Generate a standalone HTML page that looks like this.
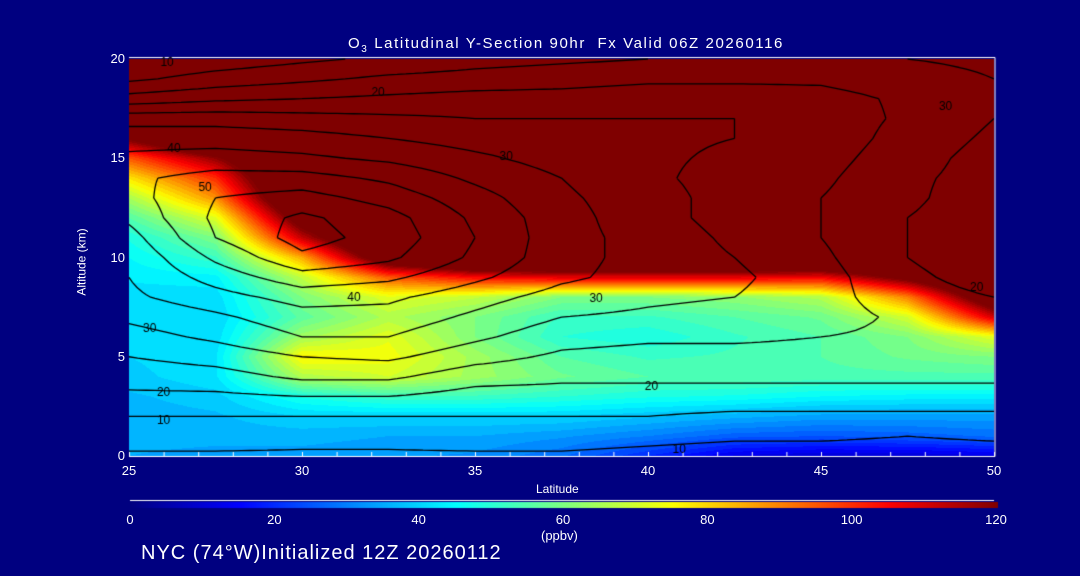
<!DOCTYPE html>
<html><head><meta charset="utf-8">
<style>
html,body{margin:0;padding:0;background:#000080;}
#wrap{position:relative;width:1080px;height:576px;background:#000080;overflow:hidden;font-family:"Liberation Sans",sans-serif;color:#fff;}
canvas{position:absolute;left:0;top:0;}
.t{position:absolute;white-space:nowrap;color:#fff;}
</style></head>
<body>
<div id="wrap">
<canvas id="cv" width="1080" height="576"></canvas>
<div class="t" style="left:0;width:1132px;text-align:center;top:35px;font-size:15px;letter-spacing:1.6px;">O<sub style="font-size:10px">3</sub> Latitudinal Y-Section 90hr&nbsp; Fx Valid 06Z 20260116</div>
<div class="t" style="left:48px;top:255px;font-size:12px;transform:rotate(-90deg);transform-origin:center;">Altitude (km)</div>
<div class="t" style="left:536px;top:482px;font-size:12px;">Latitude</div>
<div class="t" style="left:541px;top:528px;font-size:13px;">(ppbv)</div>
<div class="t" style="left:141px;top:542px;font-size:20px;letter-spacing:1px;">NYC (74°W)Initialized 12Z 20260112</div>
<div id="labels"></div>
</div>
<script>
const lats=[25,27.5,30,32.5,35,37.5,40,42.5,45,47.5,50];
const alts=[0,1,2,3,4,5,6,7,8,9,10,11,12,13,14,15,16,17,18,19,20];
const o3=[
[35,34,34,33,32,28,20,12,10,10,12],
[36,36,36,35,35,33,30,26,25,26,28],
[36,37,40,40,40,40,38,36,34,34,34],
[37,39,48,52,52,50,48,47,45,44,44],
[39,42,66,70,64,58,55,55,54,54,54],
[40,42,76,74,64,55,52,53,55,58,60],
[40,41,64,72,60,50,48,52,55,60,72],
[40,40,56,66,60,52,52,55,58,70,110],
[41,41,60,72,68,60,60,62,66,90,135],
[43,44,68,95,105,108,108,108,106,125,150],
[45,52,85,135,150,150,150,150,150,150,150],
[48,60,112,150,150,150,150,150,150,150,150],
[55,72,130,150,150,150,150,150,150,150,150],
[65,88,145,150,150,150,150,150,150,150,150],
[78,100,150,150,150,150,150,150,150,150,150],
[95,118,150,150,150,150,150,150,150,150,150],
[122,150,150,150,150,150,150,150,150,150,150],
[150,150,150,150,150,150,150,150,150,150,150],
[150,150,150,150,150,150,150,150,150,150,150],
[150,150,150,150,150,150,150,150,150,150,150],
[150,150,150,150,150,150,150,150,150,150,150]];
const wind=[
[9,9,9,9,9,9,8,7,7,7,7],
[13,13,12,12,13,13,12,11,11,10,11],
[15,15,15,15,15,15,15,14,14,14,14],
[19,19,20,20,18,18,18,18,18,18,18],
[22,23,26,26,22,21,21,21,21,21,21],
[25,27,30,31,27,24,23,23,23,22,22],
[28,31,35,35,31,27,26,26,25,24,23],
[31,34,38,38,34,30,29,28,27,24,22],
[34,38,42,41,37,33,31,30,27,22,20],
[35,42,48,46,41,36,33,31,27,21,18],
[36,46,54,51,44,37,33,30,26,20,17],
[38,50,57,53,45,37,33,29,25,20,17],
[41,51,56,52,44,37,32,28,25,20,17],
[43,50,52,48,42,36,32,28,25,21,17],
[44,47,47,44,39,35,31,28,26,21,18],
[41,42,41,39,36,33,31,29,27,22,18],
[38,38,37,35,33,32,31,30,28,23,19],
[33,33,32,31,30,30,30,30,28,24,20],
[22,24,25,26,27,27,28,28,27,24,21],
[14,17,19,21,22,23,24,24,24,22,20],
[10,12,14,16,18,19,20,21,21,20,19]];
const contourLevels=[10,15,20,25,30,35,40,45,50,55];
const labelVals=[10,20,30,30,40,50,40,30,20,10,30,20,10,20];
const labelLats=[26.1,32.2,48.6,35.9,26.3,27.2,31.5,25.6,26,26,38.5,40.1,40.9,49.5];
const labelAlts=[19.8,18.3,17.6,15.1,15.5,13.5,8.0,6.4,3.2,1.8,7.9,3.5,0.3,8.5];
const xTicks=[25,30,35,40,45,50];
const yTicks=[0,5,10,15,20];
const cbTicks=[0,20,40,60,80,100,120];

const X0=129,X1=994,Y0=456,Y1=59;
const xs=v=>X0+(v-25)/25*(X1-X0);
const ys=v=>Y0-(v-0)/20*(Y0-Y1);
function interp(g,lat,alt){
  let fi=(lat-25)/2.5, fj=alt;
  fi=Math.max(0,Math.min(lats.length-1.0001,fi));fj=Math.max(0,Math.min(alts.length-1.0001,fj));
  const i=Math.floor(fi),j=Math.floor(fj),a=fi-i,b=fj-j;
  return g[j][i]*(1-a)*(1-b)+g[j][i+1]*a*(1-b)+g[j+1][i]*(1-a)*b+g[j+1][i+1]*a*b;
}
function jet(t){
  t=Math.max(0,Math.min(1,t));
  const f=x=>Math.max(0,Math.min(1,x));
  const r=f(1.5-Math.abs(4*t-3)),g=f(1.5-Math.abs(4*t-2)),b=f(1.5-Math.abs(4*t-1));
  return [Math.round(r*255*0.99+0.5),Math.round(g*255),Math.round(b*255)];
}
const cv=document.getElementById('cv');const ctx=cv.getContext('2d');
ctx.fillStyle='#000080';ctx.fillRect(0,0,1080,576);
const W=X1-X0,H=Y0-Y1;
const img=ctx.createImageData(W,H);
for(let py=0;py<H;py++){for(let px=0;px<W;px++){
  const lat=25+(px+0.5)/W*25, alt=20-(py+0.5)/H*20;
  let v=interp(o3,lat,alt); v=Math.floor(v/2.5)*2.5+1.25;
  const c=jet(v/120);const k=(py*W+px)*4;
  img.data[k]=c[0];img.data[k+1]=c[1];img.data[k+2]=c[2];img.data[k+3]=255;
}}
ctx.putImageData(img,X0,Y1);
const NX=101,NY=81;
const fine=[];for(let j=0;j<NY;j++){const r=[];for(let i=0;i<NX;i++)r.push(interp(wind,25+i*0.25,j*0.25));fine.push(r);}
ctx.strokeStyle='#000';ctx.lineWidth=1.3;
contourLevels.forEach(L=>{
  ctx.beginPath();
  for(let j=0;j<NY-1;j++)for(let i=0;i<NX-1;i++){
    const v=[fine[j][i],fine[j][i+1],fine[j+1][i+1],fine[j+1][i]];
    const p=[[i,j],[i+1,j],[i+1,j+1],[i,j+1]];
    const pts=[];
    for(let e=0;e<4;e++){const a=v[e],b=v[(e+1)%4];
      if((a<L)!==(b<L)){const t=(L-a)/(b-a);const pa=p[e],pb=p[(e+1)%4];
        pts.push([xs(25+(pa[0]+t*(pb[0]-pa[0]))*0.25),ys((pa[1]+t*(pb[1]-pa[1]))*0.25)]);}}
    for(let k=0;k+1<pts.length;k+=2){ctx.moveTo(pts[k][0],pts[k][1]);ctx.lineTo(pts[k+1][0],pts[k+1][1]);}
  }
  ctx.stroke();
});
ctx.strokeStyle='#fff';ctx.lineWidth=1;
ctx.beginPath();ctx.moveTo(X0,Y1-1.5);ctx.lineTo(X1+1,Y1-1.5);ctx.lineTo(X1+1,Y0+0.5);ctx.lineTo(X0,Y0+0.5);ctx.stroke();
ctx.beginPath();
for(let d=25;d<=50;d++){ctx.moveTo(xs(d)+0.5,Y0);ctx.lineTo(xs(d)+0.5,Y0-4);}
ctx.stroke();
ctx.beginPath();ctx.moveTo(130,500.5);ctx.lineTo(994,500.5);ctx.stroke();
for(let px=130;px<998;px++){const c=jet((px-130)/868);ctx.fillStyle=`rgb(${c[0]},${c[1]},${c[2]})`;ctx.fillRect(px,502,1,6);}
const lab=document.getElementById('labels');
function addText(txt,x,y,size,name,align){
  const d=document.createElement('div');d.className='t';d.textContent=txt;
  
  
  d.style.fontSize=size+'px';d.style.top=(y-size*0.6)+'px';
  if(align==='right'){d.style.right=(1080-x)+'px';}else if(align==='center'){d.style.left=(x-30)+'px';d.style.width='60px';d.style.textAlign='center';}else d.style.left=x+'px';
  lab.appendChild(d);
}
xTicks.forEach(v=>addText(String(v),xs(v),471,13,'x-tick-label','center'));
yTicks.forEach(v=>addText(String(v),125,ys(v),13,'y-tick-label','right'));
cbTicks.forEach(v=>addText(String(v),130+v/120*866,520,13,'colorbar-tick-label','center'));
ctx.font='12px "Liberation Sans", sans-serif';ctx.fillStyle='#000';ctx.textAlign='center';ctx.textBaseline='middle';
labelVals.forEach((v,k)=>{ctx.fillText(String(v),xs(labelLats[k]),ys(labelAlts[k]));});
</script>
</body></html>
